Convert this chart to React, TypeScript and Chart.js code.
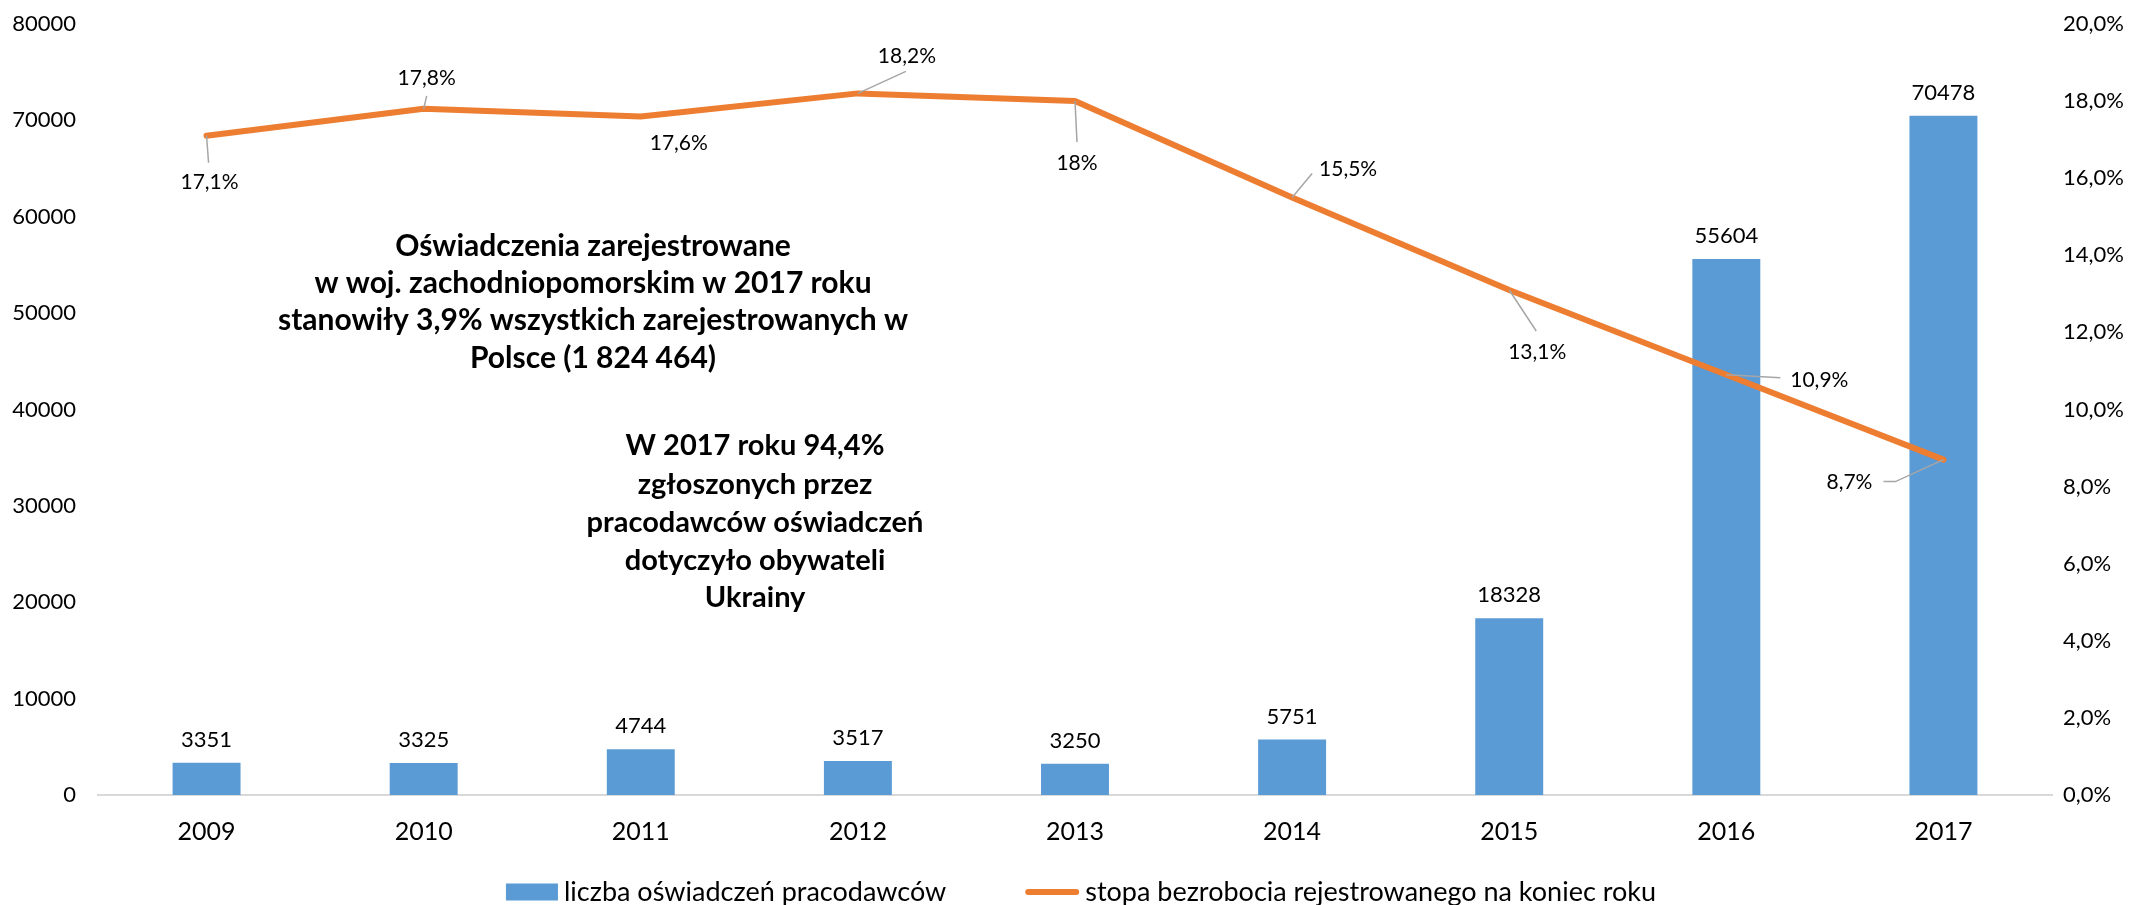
import React, { useEffect, useRef } from "react";
import { Chart, registerables } from "chart.js";

Chart.register(...registerables);

// ---- data ----
const years = ["2009", "2010", "2011", "2012", "2013", "2014", "2015", "2016", "2017"];
const declarations = [3351, 3325, 4744, 3517, 3250, 5751, 18328, 55604, 70478];
const unemploymentRate = [17.1, 17.8, 17.6, 18.2, 18.0, 15.5, 13.1, 10.9, 8.7];
const unemploymentLabels = ["17,1%", "17,8%", "17,6%", "18,2%", "18%", "15,5%", "13,1%", "10,9%", "8,7%"];
const seriesNames = ["liczba oświadczeń pracodawców", "stopa bezrobocia rejestrowanego na koniec roku"];
const annotation1 = [
  "Oświadczenia zarejestrowane",
  "w woj. zachodniopomorskim w 2017 roku",
  "stanowiły 3,9% wszystkich zarejestrowanych w",
  "Polsce (1 824 464)",
];
const annotation2 = [
  "W 2017 roku 94,4%",
  "zgłoszonych przez",
  "pracodawców oświadczeń",
  "dotyczyło obywateli",
  "Ukrainy",
];

// ---- presentation (label placement relative to points, px) ----
const lineLabelOffsets: [number, number][] = [
  [3, 46], [3, -31], [38, 27], [49, -37], [2, 62], [56, -28], [28, 62], [93, 5], [-94, 23],
];
const leaderEnds: ([number, number][] | null)[] = [
  [[2, 27]],
  [[3, -13]],
  null,
  [[48, -22]],
  [[2, 41]],
  [[20, -24]],
  [[27, 41]],
  [[54, 3]],
  [[-48, 22], [-60, 22]],
];

const FONT = "Lato, 'Open Sans', 'DejaVu Sans', sans-serif";
const BLUE = "#5B9BD5";
const ORANGE = "#ED7D31";
const TEXT = "#000000";

const decorPlugin = {
  id: "decor",
  afterDatasetsDraw(chart: any) {
    const ctx = chart.ctx as CanvasRenderingContext2D;
    ctx.save();
    // bar labels
    const barMeta = chart.getDatasetMeta(1);
    ctx.font = `22px ${FONT}`;
    ctx.fillStyle = TEXT;
    ctx.textAlign = "center";
    ctx.textBaseline = "alphabetic";
    barMeta.data.forEach((el: any, i: number) => {
      ctx.fillText(String(declarations[i]), el.x, el.y - 16);
    });
    // line labels with leader lines
    const lineMeta = chart.getDatasetMeta(0);
    lineMeta.data.forEach((el: any, i: number) => {
      const le = leaderEnds[i];
      if (le) {
        ctx.strokeStyle = "#A6A6A6";
        ctx.lineWidth = 1.5;
        ctx.beginPath();
        ctx.moveTo(el.x, el.y);
        le.forEach(([dx, dy]) => ctx.lineTo(el.x + dx, el.y + dy));
        ctx.stroke();
      }
      const [ox, oy] = lineLabelOffsets[i];
      ctx.font = `21px ${FONT}`;
      ctx.fillStyle = TEXT;
      ctx.textAlign = "center";
      ctx.textBaseline = "middle";
      ctx.fillText(unemploymentLabels[i], el.x + ox, el.y + oy);
    });
    // annotations
    ctx.font = `bold 30px ${FONT}`;
    ctx.fillStyle = TEXT;
    ctx.textAlign = "center";
    ctx.textBaseline = "middle";
    const a1y = [246, 283, 320, 358];
    annotation1.forEach((t, i) => ctx.fillText(t, 593, a1y[i]));
    ctx.font = `bold 29px ${FONT}`;
    const a2y = [446, 485, 523, 561, 598];
    annotation2.forEach((t, i) => ctx.fillText(t, 755, a2y[i]));
    ctx.restore();
  },
  afterDraw(chart: any) {
    const ctx = chart.ctx as CanvasRenderingContext2D;
    ctx.save();
    ctx.font = `27px ${FONT}`;
    const w1 = ctx.measureText(seriesNames[0]).width;
    const w2 = ctx.measureText(seriesNames[1]).width;
    const boxW = 52;
    const gapT = 6;
    const gapItem = 79;
    const total = boxW + gapT + w1 + gapItem + 54 + gapT + w2;
    let x = 1081 - total / 2;
    const cy = 892;
    ctx.fillStyle = BLUE;
    ctx.fillRect(x, cy - 8.5, boxW, 17);
    x += boxW + gapT;
    ctx.fillStyle = TEXT;
    ctx.textAlign = "left";
    ctx.textBaseline = "middle";
    ctx.fillText(seriesNames[0], x, cy);
    x += w1 + gapItem;
    ctx.strokeStyle = ORANGE;
    ctx.lineWidth = 6;
    ctx.lineCap = "round";
    ctx.beginPath();
    ctx.moveTo(x + 3, cy);
    ctx.lineTo(x + 54 - 3, cy);
    ctx.stroke();
    x += 54 + gapT;
    ctx.fillText(seriesNames[1], x, cy);
    ctx.restore();
  },
};

export default function App() {
  const ref = useRef<HTMLCanvasElement | null>(null);
  useEffect(() => {
    if (!ref.current) return;
    const chart = new Chart(ref.current, {
      type: "bar",
      data: {
        labels: years,
        datasets: [
          {
            type: "line",
            label: seriesNames[1],
            data: unemploymentRate,
            yAxisID: "y1",
            borderColor: ORANGE,
            backgroundColor: ORANGE,
            borderWidth: 6,
            pointRadius: 0,
            tension: 0,
            borderCapStyle: "round",
            borderJoinStyle: "round",
            order: 0,
          } as any,
          {
            type: "bar",
            label: seriesNames[0],
            data: declarations,
            yAxisID: "y",
            backgroundColor: BLUE,
            barPercentage: 0.313,
            categoryPercentage: 1,
            order: 1,
          },
        ],
      },
      options: {
        responsive: false,
        animation: false,
        devicePixelRatio: 1,
        layout: { padding: { top: 24, bottom: 50, left: 0, right: 0 } },
        plugins: {
          legend: { display: false },
          tooltip: { enabled: false },
        },
        scales: {
          x: {
            grid: { display: false, drawTicks: false },
            border: { display: true, color: "#D9D9D9", width: 2 },
            ticks: { font: { family: FONT, size: 25 }, color: TEXT, padding: 22 },
            afterFit: (s: any) => { s.height = 60; },
          },
          y: {
            position: "left",
            min: 0,
            max: 80000,
            grid: { display: false, drawTicks: true, tickLength: 22 },
            border: { display: false },
            ticks: {
              stepSize: 10000,
              font: { family: FONT, size: 22 },
              color: TEXT,
              padding: 0,
              callback: (v: any) => String(v),
            },
            afterFit: (s: any) => { s.width = 98; },
          },
          y1: {
            position: "right",
            min: 0,
            max: 20,
            grid: { display: false, drawTicks: true, tickLength: 11 },
            border: { display: false },
            ticks: {
              stepSize: 2,
              font: { family: FONT, size: 22 },
              color: TEXT,
              padding: 0,
              callback: (v: any) => Number(v).toFixed(1).replace(".", ",") + "%",
            },
            afterFit: (s: any) => { s.width = 89; },
          },
        },
      },
      plugins: [decorPlugin],
    });
    return () => chart.destroy();
  }, []);
  return (
    <div style={{ position: "fixed", left: 0, top: 0, width: 2141, height: 905, background: "#fff" }}>
      <canvas ref={ref} width={2141} height={905} style={{ width: 2141, height: 905, display: "block" }} />
    </div>
  );
}
